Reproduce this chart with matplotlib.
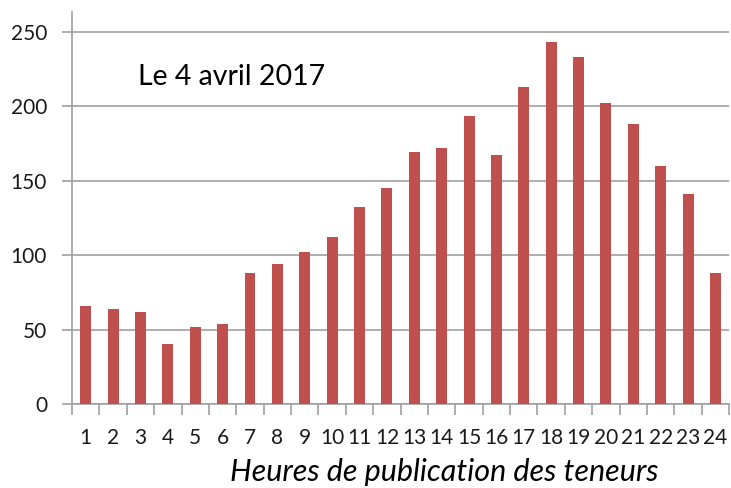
import matplotlib.pyplot as plt
import numpy as np

hours = list(range(1, 25))
counts = [66, 64, 62, 40, 52, 54, 88, 94, 102, 112, 132, 145,
          169, 172, 193, 167, 213, 243, 233, 202, 188, 160, 141, 88]
y_ticks = [0, 50, 100, 150, 200, 250]

plt.rcParams['font.family'] = ['Lato', 'DejaVu Sans']

fig = plt.figure(figsize=(7.31, 4.88), dpi=100)
ax = fig.add_axes([0.0985, 0.172, 0.899, 0.803])

x = np.array(hours)
ax.bar(x, counts, width=0.4, color='#C0504D', zorder=3)

ax.set_xlim(0.5, 24.5)
ax.set_ylim(0, 263)
ax.set_yticks(y_ticks)
ax.yaxis.grid(True, color='#a0a0a0', linewidth=1.2, zorder=0)

# category labels centred, tick marks on the boundaries
ax.set_xticks(x)
ax.set_xticklabels([str(h) for h in hours], fontsize=15, color='#1a1a1a')
ax.tick_params(axis='x', length=0, pad=17)
ax.set_xticks(np.arange(0.5, 25, 1), minor=True)
ax.tick_params(axis='x', which='minor', length=8, color='#a0a0a0', width=1.2)
ax.tick_params(axis='y', length=7, color='#a0a0a0', width=1.2, labelsize=15,
               labelcolor='#1a1a1a', pad=11)

for s in ['top', 'right']:
    ax.spines[s].set_visible(False)
for s in ['left', 'bottom']:
    ax.spines[s].set_color('#a0a0a0')
    ax.spines[s].set_linewidth(1.2)

ax.text(0.100, 0.834, 'Le 4 avril 2017', transform=ax.transAxes, fontsize=20.5,
        color='black', ha='left', va='center')
ax.set_xlabel('Heures de publication des teneurs', fontsize=22, style='italic')
ax.xaxis.set_label_coords(0.567, -0.138)

fig.savefig('out.png', dpi=100)
